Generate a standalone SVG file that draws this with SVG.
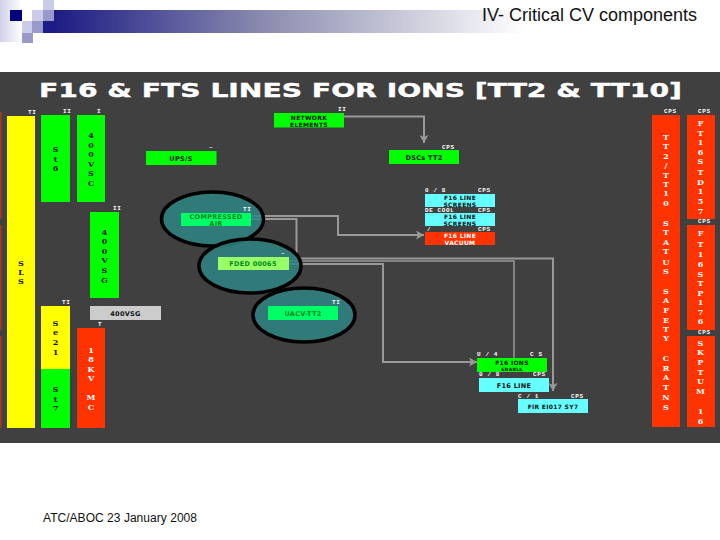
<svg xmlns="http://www.w3.org/2000/svg" width="720" height="540" viewBox="0 0 720 540">
<defs>
<linearGradient id="bar" x1="0" x2="1" y1="0" y2="0"><stop offset="0" stop-color="#1c1c84"/><stop offset="0.45" stop-color="#8c8cb0"/><stop offset="1" stop-color="#ffffff"/></linearGradient>
<linearGradient id="side" x1="0" x2="1" y1="0" y2="0"><stop offset="0" stop-color="#d0d0ea"/><stop offset="1" stop-color="#ffffff"/></linearGradient>
<marker id="arr" markerUnits="userSpaceOnUse" markerWidth="9" markerHeight="9" refX="8" refY="4.5" orient="auto"><path d="M0 0L8 4.5L0 9L2 4.5Z" fill="#999999"/></marker>
</defs>
<style>
.sm{font:bold 6px "Liberation Mono",monospace;fill:#ffffff;letter-spacing:.6px}
.b{font:bold 7.5px "DejaVu Sans",sans-serif;text-anchor:middle;letter-spacing:.3px}
.v{font:bold 8px "DejaVu Serif",serif;text-anchor:middle}
.k{fill:#111111}.g{fill:#008a20}.w{fill:#ffffff}
.e{fill:#2e8585;fill-opacity:.85;stroke:#000000;stroke-width:3.5}
.c{fill:none;stroke:#999999;stroke-width:2}
.gr{fill:#00ff00}.ye{fill:#ffff00}.re{fill:#ff3300}.cy{fill:#66ffff}
</style>
<rect width="720" height="540" fill="#ffffff"/>
<g id="banner">
<rect x="0" y="0" width="22" height="42" fill="url(#side)"/>
<rect x="54" y="10" width="470" height="23" fill="url(#bar)"/>
<rect x="10" y="10" width="12" height="11" fill="#00007f"/>
<rect x="32" y="10" width="11" height="11" fill="#ccccea"/>
<rect x="43" y="0" width="11" height="10" fill="#ccccea"/>
<rect x="43" y="10" width="11" height="11" fill="#9999cc"/>
<rect x="43" y="21" width="11" height="12" fill="#1c1c84"/>
<rect x="32" y="21" width="11" height="12" fill="#9999cc"/>
<rect x="22" y="21" width="10" height="12" fill="#ccccea"/>
<rect x="22" y="33" width="11" height="10" fill="#9999cc"/>
<text x="482" y="21" font-family="'Liberation Sans',sans-serif" font-size="18" fill="#111111" textLength="215" lengthAdjust="spacingAndGlyphs">IV- Critical CV components</text>
</g>
<rect id="panel" x="0" y="72" width="720" height="371" fill="#404040"/>
<text id="title" x="39" y="97" font-family="'DejaVu Sans',sans-serif" font-weight="bold" font-size="19" fill="#ffffff" stroke="#ffffff" stroke-width=".4" textLength="643" lengthAdjust="spacingAndGlyphs">F16 &amp; FTS LINES FOR IONS [TT2 &amp; TT10]</text>

<g id="connectors">
<path class="c" marker-end="url(#arr)" d="M344 116.500H424V143"/>
<path class="c" marker-end="url(#arr)" d="M251 216H338V235H424"/>
<path class="c" marker-end="url(#arr)" d="M251 219H296.500V258.500H553V391"/>
<path class="c" style="stroke-width:1.500" d="M289 261H514V358"/>
<path class="c" marker-end="url(#arr)" d="M289 264H383V362H477"/>
</g>

<g id="edge"><rect x="0" y="112" width="1.500" height="107" fill="#a03a20"/><rect x="0" y="225" width="1.500" height="105" fill="#a03a20"/><rect x="0" y="336" width="1.500" height="92" fill="#a03a20"/></g>

<g id="sls"><rect class="ye" x="7" y="116" width="28" height="312"/><text class="sm" x="28" y="114">TI</text><text class="v k" x="21" y="266">S</text><text class="v k" x="21" y="275">L</text><text class="v k" x="21" y="284">S</text></g>
<g id="st6"><rect class="gr" x="41" y="115" width="29" height="87"/><text class="sm" x="63" y="113">II</text><text class="v k" x="55.500" y="152">S</text><text class="v k" x="55.500" y="162">t</text><text class="v k" x="55.500" y="171">6</text></g>
<g id="vsc"><rect class="gr" x="77" y="115" width="28" height="87"/><text class="sm" x="97" y="113">I</text><text class="v k" x="91" y="138">4</text><text class="v k" x="91" y="148">0</text><text class="v k" x="91" y="157">0</text><text class="v k" x="91" y="167">V</text><text class="v k" x="91" y="176">S</text><text class="v k" x="91" y="186">C</text></g>
<g id="ups"><rect class="gr" x="146" y="151" width="70.500" height="14"/><text class="sm" x="209" y="149">–</text><text class="b k" x="181" y="161" style="font-size:6.500px">UPS/S</text></g>
<g id="vsg"><rect class="gr" x="90" y="212" width="29" height="86"/><text class="sm" x="113" y="210">II</text><text class="v k" x="104.500" y="235">4</text><text class="v k" x="104.500" y="244">0</text><text class="v k" x="104.500" y="254">0</text><text class="v k" x="104.500" y="263">V</text><text class="v k" x="104.500" y="273">S</text><text class="v k" x="104.500" y="283">G</text></g>
<g id="vsg400"><rect x="90" y="306" width="71" height="14" fill="#cccccc"/><text class="b k" x="125.500" y="315.500" style="font-size:6.500px">400VSG</text></g>
<g id="se21"><rect class="ye" x="41" y="306" width="29" height="63"/><text class="sm" x="62" y="304">TI</text><text class="v k" x="55.500" y="326">S</text><text class="v k" x="55.500" y="335">e</text><text class="v k" x="55.500" y="345">2</text><text class="v k" x="55.500" y="355">1</text></g>
<g id="st7"><rect class="gr" x="41" y="369" width="29" height="59"/><text class="v k" x="55.500" y="392">S</text><text class="v k" x="55.500" y="402">t</text><text class="v k" x="55.500" y="411">7</text></g>
<g id="kv18"><rect class="re" x="77" y="328" width="28" height="100"/><text class="sm" x="98" y="326">T</text><text class="v w" x="91" y="353">1</text><text class="v w" x="91" y="362">8</text><text class="v w" x="91" y="372">K</text><text class="v w" x="91" y="381">V</text><text class="v w" x="91" y="400">M</text><text class="v w" x="91" y="410">C</text></g>

<g id="air"><ellipse class="e" cx="212.500" cy="219" rx="51" ry="27"/><rect x="181" y="213" width="70" height="13" fill="#00ff66"/><text class="sm" x="243" y="211">TI</text><text class="b g" x="216" y="219" style="font-size:6.500px">COMPRESSED</text><text class="b g" x="216" y="225.500" style="font-size:6.500px">AIR</text></g>
<g id="fded"><ellipse class="e" cx="250" cy="266" rx="51" ry="27"/><rect x="218" y="257" width="71" height="13" fill="#99ff66"/><text class="sm" x="281" y="255">–</text><text class="b g" x="253" y="266" style="font-size:6.500px">FDED 00065</text></g>
<g id="uacv"><ellipse class="e" cx="304" cy="315" rx="51" ry="27"/><rect x="268" y="306" width="70" height="14" fill="#00ff66"/><text class="sm" x="332" y="304">TI</text><text class="b g" x="303" y="315.500" style="font-size:6.500px">UACV-TT2</text></g>

<g id="network"><rect class="gr" x="274" y="113" width="70" height="14.500"/><text class="sm" x="338" y="111">II</text><text class="b k" x="309" y="119.500" style="font-size:6px">NETWORK</text><text class="b k" x="309" y="126.500" style="font-size:6px">ELEMENTS</text></g>
<g id="dsc"><rect class="gr" x="389" y="150" width="70" height="14"/><text class="sm" x="442" y="149">CPS</text><text class="b k" x="424" y="160" style="font-size:6.500px">DSCs TT2</text></g>
<g id="screens1"><rect class="cy" x="425" y="194" width="70" height="13"/><text class="sm" x="425" y="192">0 / 8</text><text class="sm" x="478" y="192">CPS</text><text class="b k" x="460" y="200" style="font-size:6px">F16 LINE</text><text class="b k" x="460" y="207" style="font-size:6px">SCREENS</text></g>
<g id="screens2"><rect class="cy" x="425" y="213" width="70" height="13"/><text class="sm" x="425" y="212">DE COOL</text><text class="sm" x="478" y="212">CPS</text><text class="b k" x="460" y="219" style="font-size:6px">F16 LINE</text><text class="b k" x="460" y="226" style="font-size:6px">SCREENS</text></g>
<g id="vacuum"><rect class="re" x="425" y="232" width="70" height="13"/><text class="sm" x="427" y="231">/</text><text class="sm" x="478" y="231">CPS</text><text class="b w" x="460" y="238" style="font-size:6px">F16 LINE</text><text class="b w" x="460" y="245" style="font-size:6px">VACUUM</text></g>
<g id="ions"><rect class="gr" x="477" y="358" width="70" height="14"/><text class="sm" x="477" y="356">U / 4</text><text class="sm" x="530" y="356">C S</text><text class="b k" x="512" y="364.500" style="font-size:6px">F16 IONS</text><text class="b k" x="512" y="370.500" style="font-size:4.500px">ENABLE</text></g>
<g id="line"><rect class="cy" x="479" y="378" width="70" height="14"/><text class="sm" x="479" y="376">0 / 8</text><text class="sm" x="533" y="376">CPS</text><text class="b k" x="514" y="387.500" style="font-size:6.500px">F16 LINE</text></g>
<g id="bottom"><rect class="cy" x="518" y="399" width="70" height="14"/><text class="sm" x="518" y="398">C / 1</text><text class="sm" x="571" y="398">CPS</text><text class="b k" x="553" y="409" style="font-size:6px">FIR EI017 SY7</text></g>

<g id="tt2"><rect class="re" x="652" y="115" width="28" height="312"/><text class="sm" x="664" y="113">CPS</text>
<g class="v w"><text x="666" y="140">T</text><text x="666" y="149">T</text><text x="666" y="159">2</text><text x="666" y="168">/</text><text x="666" y="178">T</text><text x="666" y="187">T</text><text x="666" y="196">1</text><text x="666" y="206">0</text>
<text x="666" y="226">S</text><text x="666" y="235">T</text><text x="666" y="245">A</text><text x="666" y="254">T</text><text x="666" y="265">U</text><text x="666" y="274">S</text>
<text x="666" y="294">S</text><text x="666" y="303">A</text><text x="666" y="313">F</text><text x="666" y="323">E</text><text x="666" y="332">T</text><text x="666" y="341">Y</text>
<text x="666" y="361">C</text><text x="666" y="371">R</text><text x="666" y="380">A</text><text x="666" y="390">T</text><text x="666" y="400">N</text><text x="666" y="410">S</text></g></g>
<g id="std"><rect class="re" x="687" y="115" width="28" height="104"/><text class="sm" x="698" y="113">CPS</text>
<g class="v w"><text x="700.500" y="126">F</text><text x="700.500" y="136">T</text><text x="700.500" y="145">1</text><text x="700.500" y="155">6</text><text x="700.500" y="164">S</text><text x="700.500" y="175">T</text><text x="700.500" y="185">D</text><text x="700.500" y="194">1</text><text x="700.500" y="204">5</text><text x="700.500" y="214">7</text></g></g>
<g id="stp"><rect class="re" x="687" y="225" width="28" height="105"/><text class="sm" x="698" y="223">CPS</text>
<g class="v w"><text x="700.500" y="236">F</text><text x="700.500" y="247">T</text><text x="700.500" y="257">1</text><text x="700.500" y="267">6</text><text x="700.500" y="277">S</text><text x="700.500" y="286">T</text><text x="700.500" y="296">P</text><text x="700.500" y="305">1</text><text x="700.500" y="315">7</text><text x="700.500" y="324">6</text></g></g>
<g id="septum"><rect class="re" x="687" y="336" width="28" height="91"/><text class="sm" x="698" y="334">CPS</text>
<g class="v w"><text x="700.500" y="346">S</text><text x="700.500" y="355">K</text><text x="700.500" y="365">P</text><text x="700.500" y="375">T</text><text x="700.500" y="384">U</text><text x="700.500" y="394">M</text><text x="700.500" y="414">1</text><text x="700.500" y="424">6</text></g></g>

<text id="footer" x="43" y="522" font-family="'Liberation Sans',sans-serif" font-size="12" fill="#111111" textLength="154">ATC/ABOC 23 January 2008</text>
</svg>
